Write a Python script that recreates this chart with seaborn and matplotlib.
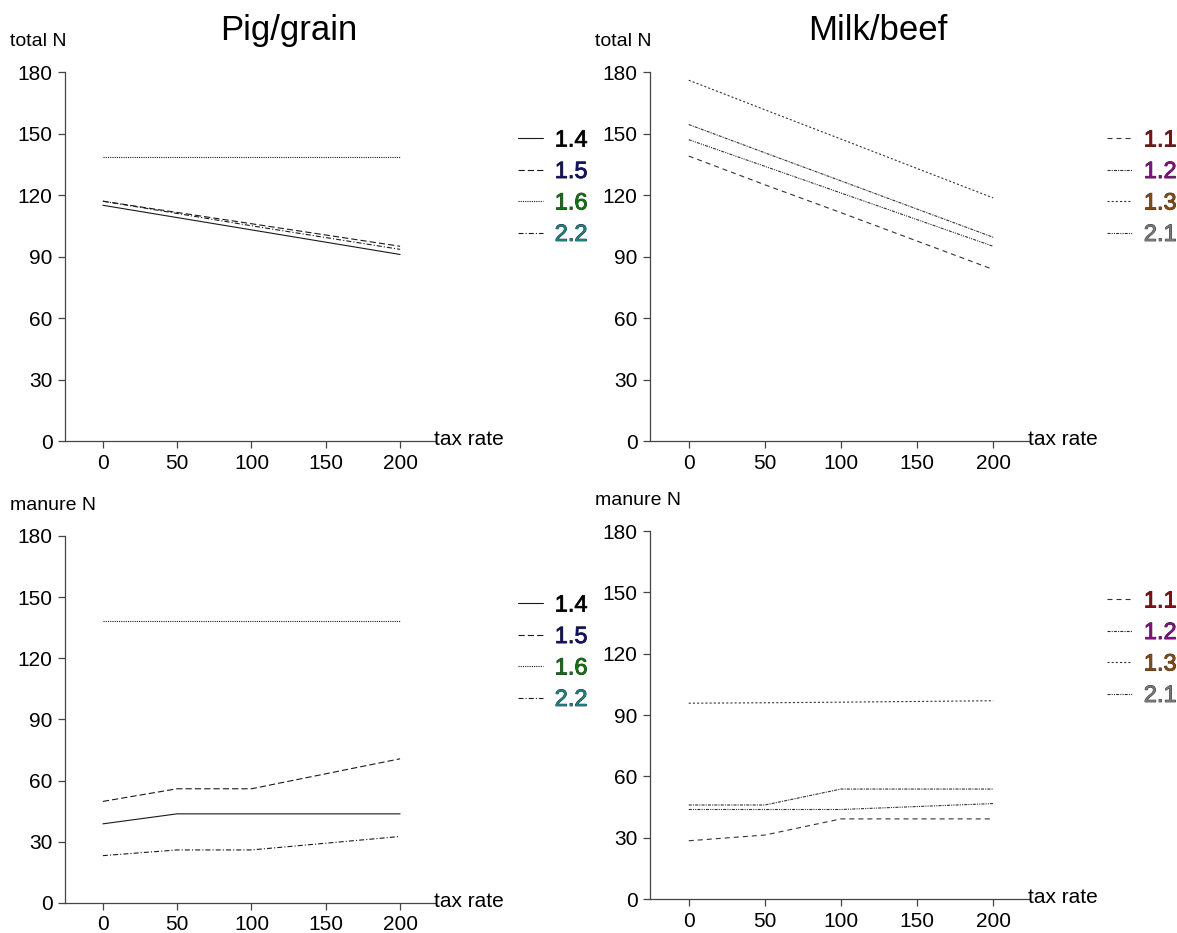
import pandas as pd
import matplotlib.pyplot as plt
import matplotlib.patheffects as pe
import seaborn as sns

sns.set_style('white')
plt.rcParams['font.family'] = ['Liberation Sans', 'DejaVu Sans']
plt.rcParams['lines.scale_dashes'] = False
plt.rcParams['text.color'] = 'black'
plt.rcParams['xtick.labelcolor'] = 'black'
plt.rcParams['ytick.labelcolor'] = 'black'

# ---------------- DATA ----------------
tax_rate = [0, 50, 100, 200]

# Pig/grain scenarios
pig_labels = ['1.4', '1.5', '1.6', '2.2']
pig_total = {
    '1.4': [115, 109, 103, 91],
    '1.5': [117, 111.5, 106, 95],
    '1.6': [138.5, 138.5, 138.5, 138.5],
    '2.2': [117, 111, 105, 93.5],
}
pig_manure = {
    '1.4': [38.8, 43.7, 43.7, 43.7],
    '1.5': [49.8, 56, 56, 70.7],
    '1.6': [138.4, 138.4, 138.4, 138.4],
    '2.2': [23.2, 26, 26, 32.6],
}
pig_colors = ['#000000', '#10106e', '#0a780a', '#178585']

# Milk/beef scenarios
milk_labels = ['1.1', '1.2', '1.3', '2.1']
milk_total = {
    '1.1': [139, 125, 111.4, 83.7],
    '1.2': [154.4, 140.6, 126.9, 99.4],
    '1.3': [176, 161.6, 147.3, 118.6],
    '2.1': [147, 134, 121, 95],
}
milk_manure = {
    '1.1': [28.5, 31.3, 39.2, 39.2],
    '1.2': [46, 46, 53.8, 53.8],
    '1.3': [95.8, 96, 96.3, 97],
    '2.1': [43.8, 43.8, 43.8, 46.7],
}
milk_colors = ['#8b0a0a', '#8b0a8b', '#8b4a0a', '#7a7a7a']

# dash patterns (in points)
dash_map = {
    '1.4': '',
    '1.5': (4.5, 2.2),
    '1.6': (0.8, 0.8),
    '2.2': (3.6, 1.5, 0.8, 1.5),
    '1.1': (3.6, 2.9),
    '1.2': (2.2, 0.8, 0.8, 0.8),
    '1.3': (1.5, 1.5),
    '2.1': (2.2, 0.8, 0.8, 0.8, 0.8, 0.8),
}


def to_long(d):
    rows = []
    for k, vals in d.items():
        for x, v in zip(tax_rate, vals):
            rows.append((x, v, k))
    return pd.DataFrame(rows, columns=['tax', 'N', 'scenario'])


def draw_panel(fig, rect, data, labels, colors, ylab, leg_anchor, line_color):
    ax = fig.add_axes(rect)
    df = to_long(data)
    sns.lineplot(data=df, x='tax', y='N', style='scenario', style_order=labels,
                 dashes={k: dash_map[k] for k in labels}, color=line_color,
                 linewidth=0.8, ax=ax, legend=True)
    ax.set_xlim(-25.5, 223.5)
    ax.set_ylim(0, 180)
    ax.set_xticks([0, 50, 100, 150, 200])
    ax.set_yticks([0, 30, 60, 90, 120, 150, 180])
    ax.set_xlabel('')
    ax.set_ylabel('')
    for s in ['top', 'right']:
        ax.spines[s].set_visible(False)
    for s in ['left', 'bottom']:
        ax.spines[s].set_color('#444444')
        ax.spines[s].set_linewidth(0.9)
    ax.tick_params(axis='both', which='both', direction='out', length=5, width=0.9,
                   color='#444444', labelsize=15, pad=4, left=True, bottom=True)
    ax.annotate('tax rate', xy=(1, 0), xycoords='axes fraction', xytext=(-1, 1),
                textcoords='offset points', ha='left', va='center', fontsize=15)
    fig.text(rect[0] - 0.047, rect[1] + rect[3] + 0.033, ylab, fontsize=14,
             ha='left', va='center')

    handles, _ = ax.get_legend_handles_labels()
    leg = ax.legend(handles[-len(labels):], labels, loc='upper left',
                    bbox_to_anchor=leg_anchor, bbox_transform=fig.transFigure,
                    frameon=False, fontsize=17, handlelength=1.06, handletextpad=0.5,
                    labelspacing=0.4, borderaxespad=0, borderpad=0)
    for txt, c in zip(leg.get_texts(), colors):
        txt.set_color(c)
        txt.set_path_effects([pe.withStroke(linewidth=0.6, foreground='#222222')])
    return ax


fig = plt.figure(figsize=(11.77, 9.33), dpi=100)

draw_panel(fig, [0.0552, 0.5273, 0.3144, 0.3955], pig_total, pig_labels,
           pig_colors, 'total N', (0.440, 0.8611), '#1a1a1a')
draw_panel(fig, [0.5522, 0.5273, 0.3220, 0.3955], milk_total, milk_labels,
           milk_colors, 'total N', (0.9405, 0.8611), '#333333')
draw_panel(fig, [0.0552, 0.0322, 0.3144, 0.3934], pig_manure, pig_labels,
           pig_colors, 'manure N', (0.440, 0.3627), '#1a1a1a')
draw_panel(fig, [0.5522, 0.0364, 0.3220, 0.3944], milk_manure, milk_labels,
           milk_colors, 'manure N', (0.9405, 0.3670), '#333333')

fig.text(0.245, 0.967, 'Pig/grain', fontsize=25, ha='center', va='center')
fig.text(0.746, 0.967, 'Milk/beef', fontsize=25, ha='center', va='center')

fig.savefig('out.png', dpi=100)
